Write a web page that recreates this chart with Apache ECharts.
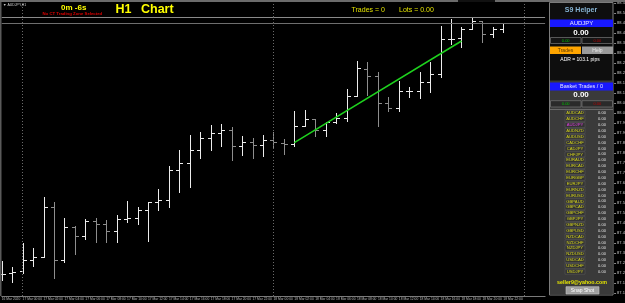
<!DOCTYPE html>
<html><head><meta charset="utf-8">
<script src="https://cdn.jsdelivr.net/npm/echarts@6/dist/echarts.min.js"></script>
<style>html,body{margin:0;padding:0;background:#000;}#c{width:625px;height:303px;}</style>
</head><body><div id="c"></div>
<script>
const categories = ['16 Mar 2020','16 Mar 23:00',
 '17 Mar 00:00','17 Mar 01:00','17 Mar 02:00','17 Mar 03:00','17 Mar 04:00','17 Mar 05:00','17 Mar 06:00','17 Mar 07:00',
 '17 Mar 08:00','17 Mar 09:00','17 Mar 10:00','17 Mar 11:00','17 Mar 12:00','17 Mar 13:00','17 Mar 14:00','17 Mar 15:00',
 '17 Mar 16:00','17 Mar 17:00','17 Mar 18:00','17 Mar 19:00','17 Mar 20:00','17 Mar 21:00','17 Mar 22:00','17 Mar 23:00',
 '18 Mar 00:00','18 Mar 01:00','18 Mar 02:00','18 Mar 03:00','18 Mar 04:00','18 Mar 05:00','18 Mar 06:00','18 Mar 07:00',
 '18 Mar 08:00','18 Mar 09:00','18 Mar 10:00','18 Mar 11:00','18 Mar 12:00','18 Mar 13:00','18 Mar 14:00','18 Mar 15:00',
 '18 Mar 16:00','18 Mar 17:00','18 Mar 18:00','18 Mar 19:00','18 Mar 20:00','18 Mar 21:00','18 Mar 22:00'];
const futureSlots = ['', '', '', ''];
const opens  = [87.195,87.200,87.210,87.265,87.280,87.528,87.263,87.432,87.385,87.462,87.447,87.410,87.469,87.474,87.514,87.554,
 87.564,87.715,87.750,87.815,87.875,87.900,87.915,87.835,87.855,87.840,87.865,87.850,87.845,87.935,87.969,87.915,
 87.954,87.977,88.085,88.220,88.187,88.049,88.024,88.110,88.110,88.154,88.194,88.369,88.374,88.419,88.460,88.394,88.419];
const highs  = [87.260,87.230,87.350,87.325,87.578,87.557,87.474,87.435,87.470,87.474,87.465,87.490,87.560,87.532,87.557,87.619,
 87.735,87.815,87.890,87.905,87.940,87.945,87.930,87.885,87.875,87.890,87.907,87.869,88.010,88.015,87.970,87.957,
 87.999,88.119,88.260,88.257,88.204,88.082,88.162,88.132,88.207,88.257,88.435,88.469,88.432,88.479,88.460,88.432,88.452];
const lows   = [87.165,87.155,87.200,87.235,87.278,87.174,87.257,87.295,87.370,87.357,87.357,87.354,87.454,87.444,87.362,87.515,
 87.532,87.607,87.632,87.775,87.815,87.835,87.765,87.790,87.775,87.785,87.829,87.794,87.835,87.935,87.885,87.885,
 87.949,87.960,88.085,88.090,87.937,88.010,88.010,88.079,88.074,88.107,88.182,88.344,88.332,88.419,88.354,88.382,88.407];
const closes = [87.195,87.205,87.265,87.280,87.528,87.263,87.432,87.385,87.462,87.447,87.410,87.469,87.474,87.514,87.554,87.564,
 87.715,87.750,87.815,87.875,87.900,87.915,87.835,87.855,87.840,87.865,87.854,87.844,87.935,87.969,87.915,87.954,
 87.977,88.085,88.227,88.187,88.049,88.024,88.110,88.110,88.154,88.194,88.369,88.369,88.419,88.460,88.394,88.419,88.449];
const refLines = [88.480, 88.450];
const daySeparators = [2, 26, 50];
const trendStart = [28, 87.852];
const trendEnd = [44, 88.360];
const pairs = ['AUDCAD','AUDCHF','AUDJPY','AUDNZD','AUDUSD','CADCHF','CADJPY','CHFJPY','EURAUD','EURCAD','EURCHF','EURGBP',
 'EURJPY','EURNZD','EURUSD','GBPAUD','GBPCAD','GBPCHF','GBPJPY','GBPNZD','GBPUSD','NZDCAD','NZDCHF','NZDJPY','NZDUSD',
 'USDCAD','USDCHF','USDJPY'];
const pairValue = '0.00';
const activePair = 'AUDJPY';

const FONT = '"Liberation Sans", Arial, sans-serif';
const chart = echarts.init(document.getElementById('c'), null, {renderer: 'canvas'});

function renderBar(params, api) {
  const i = api.value(0);
  const o = api.value(1), h = api.value(2), l = api.value(3), c = api.value(4);
  const top = api.coord([i, h]), bot = api.coord([i, l]);
  const po = api.coord([i, o]), pc = api.coord([i, c]);
  const x = Math.round(top[0]) + 0.5;
  const r = v => Math.round(v) + 0.5;
  const stroke = c >= o ? '#ececec' : '#8e8e8e';
  const st = {stroke: stroke, lineWidth: 1};
  return {type: 'group', children: [
    {type: 'line', shape: {x1: x, y1: Math.round(top[1]), x2: x, y2: Math.round(bot[1]) + 1}, style: st},
    {type: 'line', shape: {x1: x - 3.5, y1: r(po[1]), x2: x, y2: r(po[1])}, style: st},
    {type: 'line', shape: {x1: x, y1: r(pc[1]), x2: x + 3.5, y2: r(pc[1])}, style: st}
  ]};
}

function text(x, y, t, size, color, weight, align) {
  return {type: 'text', x: x, y: y, z: 100, silent: true,
    style: {text: t, fill: color, font: (weight || 'normal') + ' ' + size + 'px ' + FONT,
      align: align || 'center', verticalAlign: 'middle', textAlign: align || 'center', textVerticalAlign: 'middle'}};
}
function rect(x, y, w, h, fill, stroke, lw) {
  const s = {fill: fill};
  if (stroke) { s.stroke = stroke; s.lineWidth = lw || 1; }
  return {type: 'rect', z: 100, silent: true, shape: {x: x, y: y, width: w, height: h}, style: s};
}

const g = [];
g.push(rect(0, 0, 625, 2, '#6b6b6b'));
g.push(rect(458, 0, 37, 2, '#111111'));
g.push(rect(0, 2, 1.5, 294, '#5a5a5a'));
g.push(text(3, 5, '\u25BC AUDJPY,H1', 3.5, '#d0d0d0', 'normal', 'left'));
g.push(text(61, 8, '0m -6s', 8, '#ffff00', 'bold', 'left'));
g.push(text(42.5, 14, 'No CT Trading Zone Selected', 4.3, '#dd0000', 'bold', 'left'));
g.push(text(115.5, 10, 'H1', 12.5, '#ffff00', 'bold', 'left'));
g.push(text(141, 10, 'Chart', 12.5, '#ffff00', 'bold', 'left'));
g.push(text(351.5, 9.8, 'Trades = 0', 7, '#e2e200', 'normal', 'left'));
g.push(text(399, 9.8, 'Lots = 0.00', 7, '#e2e200', 'normal', 'left'));

// panel
g.push(rect(549.5, 2.5, 63.5, 292.5, '#0e0e0e', '#7c7c7c', 1));
g.push(rect(550, 80.5, 62.5, 214, '#3a3a3a'));
g.push(text(581, 10.5, 'S9 Helper', 7, '#86b4d4', 'bold'));
g.push(rect(550, 19.5, 63, 7.5, '#1818ff'));
g.push(text(581.5, 23.3, 'AUDJPY', 6, '#e8e8ff'));
g.push(text(581, 32.7, '0.00', 8, '#ffffff', 'bold'));
g.push(rect(550.5, 37.5, 30.5, 6, '#151515', '#777777', 0.7));
g.push(rect(582, 37.5, 30.5, 6, '#151515', '#777777', 0.7));
g.push(text(565.7, 40.6, '0.00', 4, '#00c000'));
g.push(text(597.3, 40.6, '0.00', 4, '#c00000'));
g.push(rect(550, 46.5, 31, 7.5, '#ffa500'));
g.push(rect(582, 46.5, 31, 7.5, '#9a9a9a'));
g.push(text(565.5, 50.4, 'Trades', 5, '#5a3800'));
g.push(text(597.5, 50.4, 'Help', 5, '#e8e8e8'));
g.push(text(580, 60, 'ADR = 103.1 pips', 5, '#ffffff'));
g.push(rect(550, 82.5, 63, 8, '#1818ff'));
g.push(text(581.5, 86.6, 'Basket Trades / 0', 5.5, '#e8e8ff'));
g.push(text(581, 95, '0.00', 8, '#ffffff', 'bold'));
g.push(rect(550.5, 100.7, 30.5, 6.3, '#2a2a2a', '#777777', 0.7));
g.push(rect(582, 100.7, 30.5, 6.3, '#2a2a2a', '#777777', 0.7));
g.push(text(565.7, 104, '0.00', 4, '#00c000'));
g.push(text(597.3, 104, '0.00', 4, '#c00000'));
g.push({type: 'line', z: 100, silent: true, shape: {x1: 550, y1: 109.5, x2: 613, y2: 109.5}, style: {stroke: '#6a6a6a', lineWidth: 1}});
pairs.forEach((p, k) => {
  const yc = 113.3 + k * 5.87;
  g.push(rect(565, yc - 2.5, 20, 5, '#333333', '#5e5e5e', 0.5));
  g.push(text(575, yc, p, 4.2, p === activePair ? '#e040e0' : '#d4d41c'));
  g.push(text(602, yc, pairValue, 4, '#e0e0e0'));
});
g.push(text(582, 282.3, 'seller9@yahoo.com', 5.3, '#e6e600', 'bold'));
g.push(rect(566, 286.7, 33, 7.3, '#a0a0a0', '#c8c8c8', 0.6));
g.push(text(582.5, 290.5, 'Snap Shot', 5, '#ffffff'));

const barData = categories.map((_, i) => [i, opens[i], highs[i], lows[i], closes[i]]);

const option = {
  backgroundColor: '#000000',
  animation: false,
  grid: {left: 1.7, right: 79.9, top: 3, bottom: 7, containLabel: false, outerBoundsMode: 'none'},
  xAxis: {
    type: 'category', data: categories.concat(futureSlots), boundaryGap: false,
    axisLine: {show: true, lineStyle: {color: '#7a7a7a', width: 1}},
    axisTick: {show: false}, splitLine: {show: false},
    axisLabel: {interval: 1, align: 'left', fontSize: 3.3, color: '#b8b8b8', margin: 2, fontFamily: FONT}
  },
  yAxis: {
    type: 'value', min: 87.085, max: 88.55, position: 'right', offset: 69, splitNumber: 28, scale: true,
    splitLine: {show: false}, axisLine: {show: false},
    axisTick: {show: true, length: 2, lineStyle: {color: '#888'}},
    axisLabel: {fontSize: 4, color: '#c8c8c8', margin: 3, fontFamily: FONT, formatter: v => v.toFixed(3)}
  },
  series: [{
    type: 'custom', renderItem: renderBar, data: barData,
    encode: {x: 0, y: [1, 2, 3, 4]}, silent: true, clip: false,
    markLine: {
      silent: true, symbol: 'none', label: {show: false}, animation: false,
      data: [
        {yAxis: refLines[0], lineStyle: {color: '#8a8a8a', width: 1, type: 'solid'}},
        {yAxis: refLines[1], lineStyle: {color: '#6e6e6e', width: 1, type: 'solid'}},
        ...daySeparators.map(d => ({xAxis: d, lineStyle: {color: '#6a6a6a', width: 1, type: [1, 2]}})),
        [{coord: trendStart, lineStyle: {color: '#1ed21e', width: 1.5, type: 'solid'}}, {coord: trendEnd}]
      ]
    }
  }],
  graphic: {elements: g}
};
chart.setOption(option);
</script>
</body></html>
